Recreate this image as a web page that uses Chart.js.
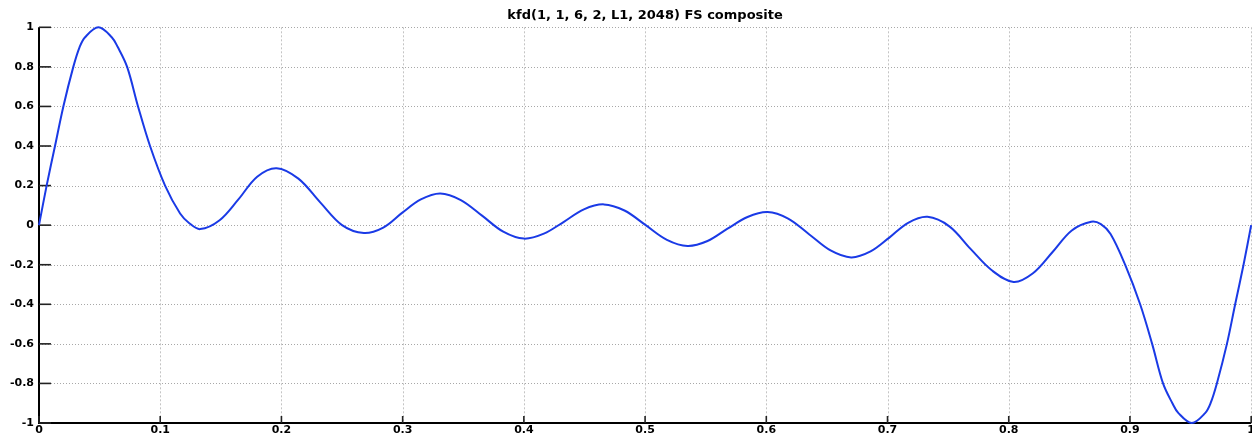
<!DOCTYPE html>
<html><head><meta charset="utf-8">
<script src="https://cdn.jsdelivr.net/npm/chart.js@4"></script>
<style>
html,body{margin:0;padding:0;background:#fff;overflow:hidden}
#wrap{width:1256px;height:437px;position:relative}
</style>
</head><body>
<div id="wrap"><canvas id="c"></canvas></div>
<script>
const titleText = 'kfd(1, 1, 6, 2, L1, 2048) FS composite';
const xValues = [0, 0.0063, 0.0132, 0.0201, 0.0283, 0.0335, 0.038, 0.049, 0.06, 0.065, 0.0727, 0.0817, 0.0916, 0.104, 0.1164, 0.124, 0.133,
  0.149, 0.1645, 0.18, 0.196, 0.214, 0.232, 0.25, 0.268, 0.284, 0.2995, 0.315, 0.331, 0.348, 0.3655, 0.383, 0.4,
  0.4165, 0.433, 0.4495, 0.466, 0.483, 0.5005, 0.518, 0.535, 0.5515, 0.568, 0.5845, 0.601, 0.618, 0.6355, 0.653, 0.67,
  0.686, 0.7015, 0.717, 0.733, 0.751, 0.7685, 0.786, 0.804, 0.82, 0.836, 0.852, 0.868, 0.876, 0.884, 0.896, 0.9084,
  0.9183, 0.9273, 0.935, 0.94, 0.951, 0.962, 0.9665, 0.9717, 0.98, 0.9868, 0.9937, 1];
const yValues = [0, 0.2, 0.4, 0.6, 0.8, 0.9, 0.95, 1, 0.95, 0.9, 0.8, 0.6, 0.4, 0.2, 0.059, 0.01, -0.02,
  0.025, 0.13, 0.245, 0.288, 0.235, 0.115, 0, -0.04, -0.012, 0.062, 0.13, 0.16, 0.127, 0.048, -0.033, -0.068,
  -0.043, 0.017, 0.08, 0.105, 0.074, 0, -0.074, -0.105, -0.08, -0.018, 0.041, 0.066, 0.033, -0.047, -0.128, -0.163,
  -0.133, -0.063, 0.012, 0.042, -0.006, -0.12, -0.228, -0.287, -0.243, -0.137, -0.027, 0.017, 0.005, -0.045, -0.2, -0.4,
  -0.6, -0.8, -0.9, -0.95, -1, -0.95, -0.9, -0.8, -0.6, -0.4, -0.2, 0];
const xTicks = [0, 0.1, 0.2, 0.3, 0.4, 0.5, 0.6, 0.7, 0.8, 0.9, 1];
const xTickLabels = ['0', '0.1', '0.2', '0.3', '0.4', '0.5', '0.6', '0.7', '0.8', '0.9', '1'];
const yTicks = [-1, -0.8, -0.6, -0.4, -0.2, 0, 0.2, 0.4, 0.6, 0.8, 1];
const yTickLabels = ['-1', '-0.8', '-0.6', '-0.4', '-0.2', '0', '0.2', '0.4', '0.6', '0.8', '1'];

const tickFont = {family: 'DejaVu Sans', weight: 'bold', size: 11};

const matlabAxes = {
  id: 'matlabAxes',
  beforeDatasetsDraw(chart) {
    const {ctx, chartArea: a, scales: {x, y}} = chart;
    ctx.save();
    ctx.lineWidth = 1;
    ctx.strokeStyle = '#a8a8a8';
    ctx.setLineDash([1, 2]);
    yTicks.forEach(v => {
      const py = Math.round(y.getPixelForValue(v)) + 0.5;
      ctx.beginPath(); ctx.moveTo(a.left, py); ctx.lineTo(a.right, py); ctx.stroke();
    });
    ctx.strokeStyle = '#c4c4c4';
    ctx.setLineDash([2, 2]);
    xTicks.forEach(v => {
      const px = Math.round(x.getPixelForValue(v)) + 0.5;
      ctx.beginPath(); ctx.moveTo(px, a.top); ctx.lineTo(px, a.bottom); ctx.stroke();
    });
    ctx.setLineDash([]);
    ctx.strokeStyle = '#000';
    ctx.lineWidth = 2;
    ctx.beginPath();
    ctx.moveTo(a.left, a.top); ctx.lineTo(a.left, a.bottom); ctx.lineTo(a.right, a.bottom);
    ctx.stroke();
    ctx.lineWidth = 1.6;
    ctx.strokeStyle = '#222';
    yTicks.forEach(v => {
      const py = y.getPixelForValue(v);
      ctx.beginPath(); ctx.moveTo(a.left, py); ctx.lineTo(a.left + 12, py); ctx.stroke();
    });
    xTicks.forEach(v => {
      const px = x.getPixelForValue(v);
      ctx.beginPath(); ctx.moveTo(px, a.bottom); ctx.lineTo(px, a.bottom - 7); ctx.stroke();
    });
    ctx.restore();
  }
};

new Chart(document.getElementById('c'), {
  type: 'line',
  data: {
    datasets: [{
      data: xValues.map((v, i) => ({x: v, y: yValues[i]})),
      borderColor: '#1a3ae6',
      borderWidth: 2,
      pointRadius: 0,
      fill: false,
      tension: 0.35,
      clip: false
    }]
  },
  options: {
    responsive: true,
    maintainAspectRatio: false,
    animation: false,
    layout: {padding: 0},
    plugins: {
      legend: {display: false},
      tooltip: {enabled: false},
      title: {
        display: true,
        text: titleText,
        fullSize: false,
        color: '#000',
        font: {family: 'DejaVu Sans', weight: 'bold', size: 13},
        padding: {top: 8, bottom: 3.7}
      }
    },
    scales: {
      x: {
        type: 'linear', min: 0, max: 1,
        afterBuildTicks: s => { s.ticks = xTicks.map(v => ({value: v})); },
        afterFit: s => { s.height = 14; },
        ticks: {
          callback: (v, i) => xTickLabels[i],
          font: tickFont, color: '#000', padding: 1,
          maxRotation: 0, autoSkip: false
        },
        grid: {display: false, drawTicks: false},
        border: {display: false}
      },
      y: {
        type: 'linear', min: -1, max: 1,
        afterBuildTicks: s => { s.ticks = yTicks.map(v => ({value: v})); },
        afterFit: s => { s.width = 39; },
        ticks: {
          callback: (v, i) => yTickLabels[i],
          font: tickFont, color: '#000', padding: 5, autoSkip: false
        },
        grid: {display: false, drawTicks: false},
        border: {display: false}
      }
    }
  },
  plugins: [matlabAxes]
});
</script>
</body></html>
